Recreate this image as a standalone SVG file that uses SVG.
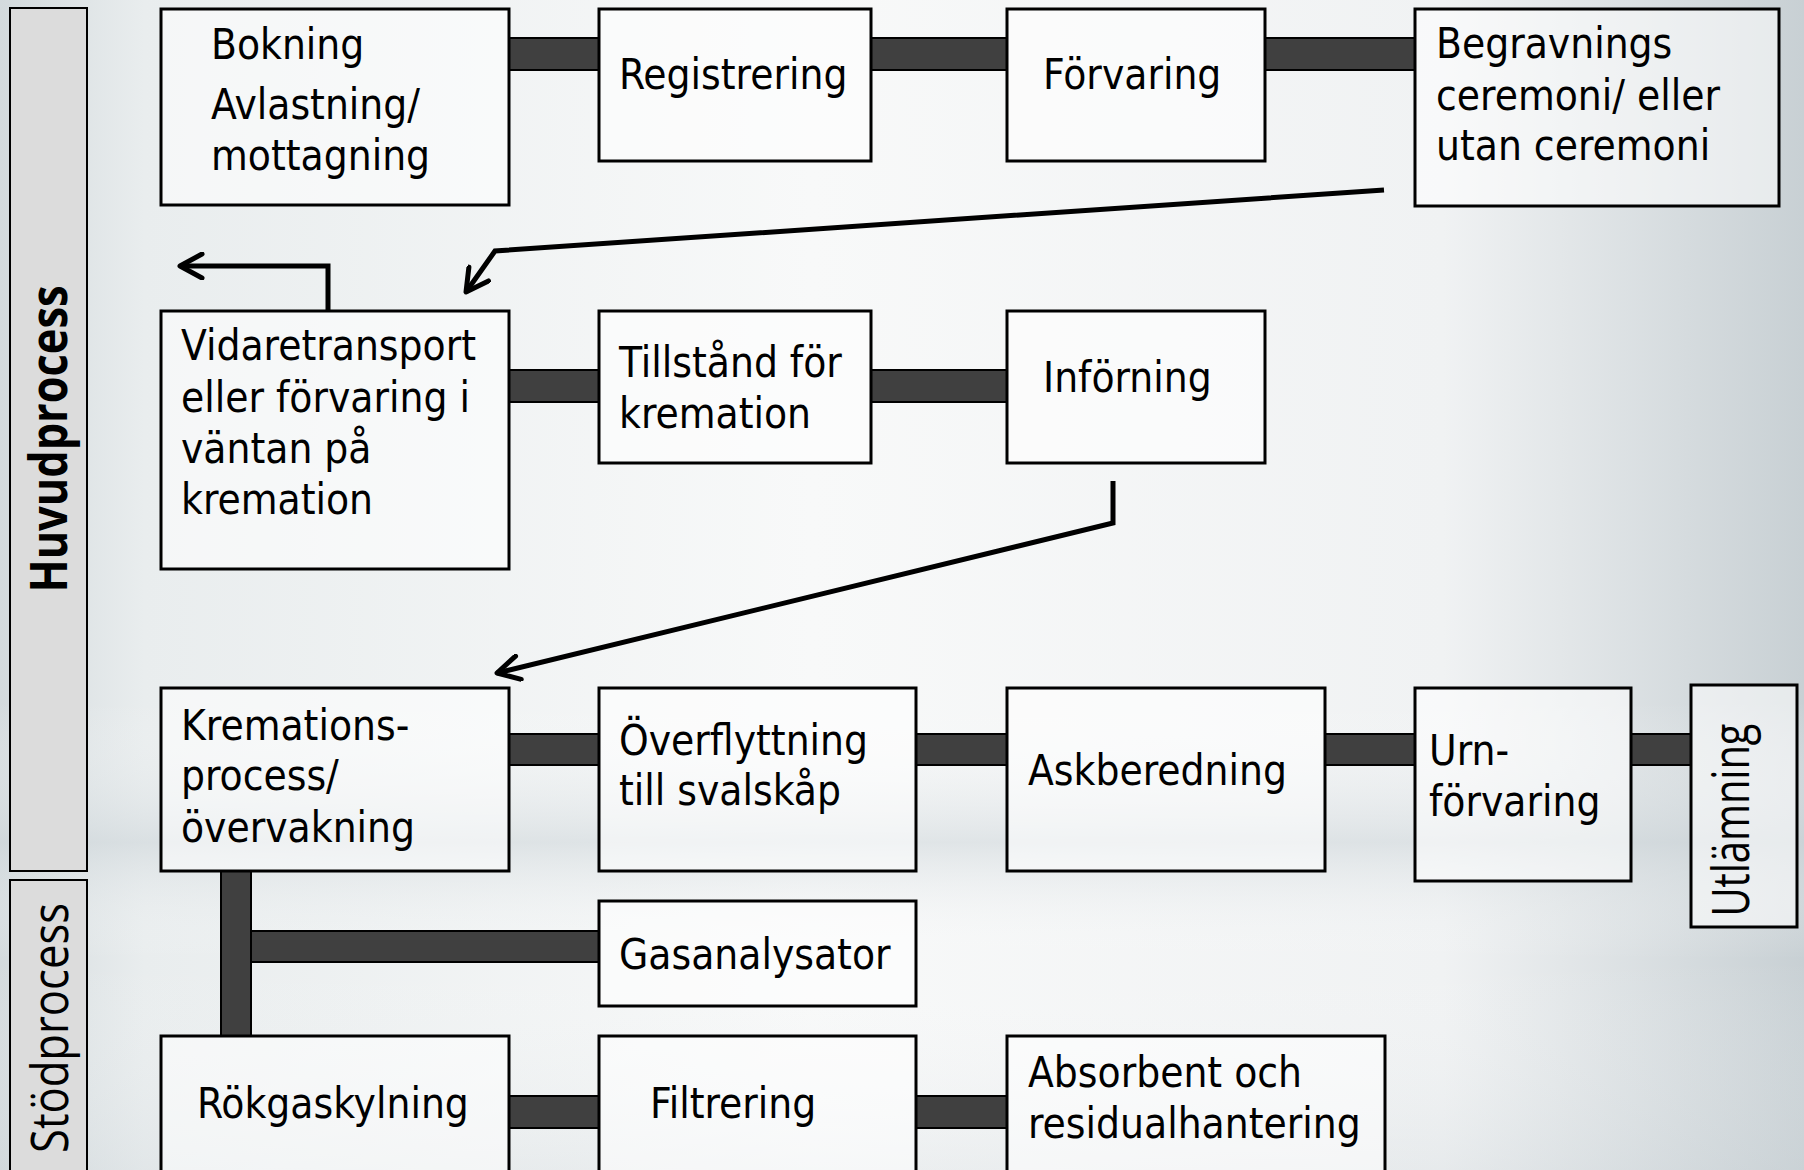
<svg xmlns="http://www.w3.org/2000/svg" width="1804" height="1170" viewBox="0 0 1804 1170">
<defs>
<linearGradient id="bgH" x1="0" y1="0" x2="1" y2="0">
<stop offset="0" stop-color="#d3dadd"/>
<stop offset="0.08" stop-color="#e9edee"/>
<stop offset="0.45" stop-color="#f8f9f9"/>
<stop offset="0.8" stop-color="#f0f2f3"/>
<stop offset="1" stop-color="#c8d0d4"/>
</linearGradient>
<linearGradient id="bgV" x1="0" y1="0" x2="0" y2="1">
<stop offset="0" stop-color="#ffffff" stop-opacity="0"/>
<stop offset="0.6" stop-color="#ffffff" stop-opacity="0"/>
<stop offset="0.72" stop-color="#cdd5d9" stop-opacity="0.55"/>
<stop offset="0.82" stop-color="#ffffff" stop-opacity="0"/>
<stop offset="1" stop-color="#d0d7db" stop-opacity="0.3"/>
</linearGradient>
<marker id="chev" viewBox="-26 -14 30 28" markerWidth="30" markerHeight="28" refX="0" refY="0" orient="auto" markerUnits="userSpaceOnUse">
<path d="M -22 -12 L 0 0 L -22 12" fill="none" stroke="#000" stroke-width="5" stroke-linecap="round" stroke-linejoin="round"/>
</marker>
<style>
.box{fill:#ffffff;fill-opacity:0.55;stroke:#000;stroke-width:3}
.band{fill:#dcdcdc;stroke:#000;stroke-width:2}
.bar{fill:#404040;stroke:#000;stroke-width:2}
.arrow{fill:none;stroke:#000;stroke-width:5;stroke-linejoin:miter}
.t{font-family:"DejaVu Sans Condensed","DejaVu Sans",sans-serif;font-stretch:condensed;font-size:42px;fill:#000}
.lbl{font-family:"Open Sans","Noto Sans",sans-serif;font-size:52px;fill:#000}
</style>
</defs>
<rect x="0" y="0" width="1804" height="1170" fill="url(#bgH)"/>
<rect x="0" y="0" width="1804" height="1170" fill="url(#bgV)"/>

<g id="connectors">
<rect class="bar" x="509" y="38" width="90" height="32"/>
<rect class="bar" x="871" y="38" width="136" height="32"/>
<rect class="bar" x="1265" y="38" width="150" height="32"/>
<rect class="bar" x="509" y="370" width="90" height="32"/>
<rect class="bar" x="871" y="370" width="136" height="32"/>
<rect class="bar" x="509" y="734" width="90" height="31"/>
<rect class="bar" x="916" y="734" width="91" height="31"/>
<rect class="bar" x="1325" y="734" width="90" height="31"/>
<rect class="bar" x="1631" y="734" width="60" height="31"/>
<rect class="bar" x="221" y="871" width="30" height="165"/>
<rect class="bar" x="251" y="931" width="348" height="31"/>
<rect class="bar" x="509" y="1096" width="90" height="32"/>
<rect class="bar" x="916" y="1096" width="91" height="32"/>
<polyline class="arrow" points="1384,190 495,251 466,292" marker-end="url(#chev)"/>
<polyline class="arrow" points="328,311 328,266 180,266" marker-end="url(#chev)"/>
<polyline class="arrow" points="1113,481 1113,523 497,673" marker-end="url(#chev)"/>
</g>

<g id="band-huvud">
<rect class="band" x="10" y="8" width="77" height="863"/>
<text class="lbl" font-weight="bold" transform="translate(67,439) rotate(-90)" text-anchor="middle" textLength="307" lengthAdjust="spacingAndGlyphs">Huvudprocess</text>
</g>
<g id="band-stod">
<rect class="band" x="10" y="880" width="77" height="300"/>
<text class="lbl" transform="translate(68,1028) rotate(-90)" text-anchor="middle" textLength="250" lengthAdjust="spacingAndGlyphs">Stödprocess</text>
</g>

<g id="n-bokning">
<rect class="box" x="161" y="9" width="348" height="196"/>
<text class="t" x="211" y="59">Bokning</text>
<text class="t" x="211" y="119">Avlastning/</text>
<text class="t" x="211" y="170">mottagning</text>
</g>
<g id="n-registrering">
<rect class="box" x="599" y="9" width="272" height="152"/>
<text class="t" x="619" y="89">Registrering</text>
</g>
<g id="n-forvaring">
<rect class="box" x="1007" y="9" width="258" height="152"/>
<text class="t" x="1043" y="89">Förvaring</text>
</g>
<g id="n-begravnings">
<rect class="box" x="1415" y="9" width="364" height="197"/>
<text class="t" x="1436" y="58">Begravnings</text>
<text class="t" x="1436" y="110">ceremoni/ eller</text>
<text class="t" x="1436" y="160">utan ceremoni</text>
</g>

<g id="n-vidaretransport">
<rect class="box" x="161" y="311" width="348" height="258"/>
<text class="t" x="181" y="360">Vidaretransport</text>
<text class="t" x="181" y="412">eller förvaring i</text>
<text class="t" x="181" y="463">väntan på</text>
<text class="t" x="181" y="514">kremation</text>
</g>
<g id="n-tillstand">
<rect class="box" x="599" y="311" width="272" height="152"/>
<text class="t" x="619" y="377">Tillstånd för</text>
<text class="t" x="619" y="428">kremation</text>
</g>
<g id="n-inforning">
<rect class="box" x="1007" y="311" width="258" height="152"/>
<text class="t" x="1043" y="392">Införning</text>
</g>

<g id="n-kremation">
<rect class="box" x="161" y="688" width="348" height="183"/>
<text class="t" x="181" y="740">Kremations-</text>
<text class="t" x="181" y="790">process/</text>
<text class="t" x="181" y="842">övervakning</text>
</g>
<g id="n-overflyttning">
<rect class="box" x="599" y="688" width="317" height="183"/>
<text class="t" x="619" y="755">Överflyttning</text>
<text class="t" x="619" y="805">till svalskåp</text>
</g>
<g id="n-askberedning">
<rect class="box" x="1007" y="688" width="318" height="183"/>
<text class="t" x="1028" y="785">Askberedning</text>
</g>
<g id="n-urn">
<rect class="box" x="1415" y="688" width="216" height="193"/>
<text class="t" x="1429" y="765">Urn-</text>
<text class="t" x="1429" y="816">förvaring</text>
</g>
<g id="n-utlamning">
<rect class="box" x="1691" y="685" width="106" height="242"/>
<text class="lbl" transform="translate(1749,820) rotate(-90)" text-anchor="middle" textLength="193" lengthAdjust="spacingAndGlyphs">Utlämning</text>
</g>

<g id="n-gasanalysator">
<rect class="box" x="599" y="901" width="317" height="105"/>
<text class="t" x="619" y="969">Gasanalysator</text>
</g>

<g id="n-rokgaskylning">
<rect class="box" x="161" y="1036" width="348" height="160"/>
<text class="t" x="197" y="1118">Rökgaskylning</text>
</g>
<g id="n-filtrering">
<rect class="box" x="599" y="1036" width="317" height="160"/>
<text class="t" x="650" y="1118">Filtrering</text>
</g>
<g id="n-absorbent">
<rect class="box" x="1007" y="1036" width="378" height="160"/>
<text class="t" x="1028" y="1087">Absorbent och</text>
<text class="t" x="1028" y="1138">residualhantering</text>
</g>
</svg>
